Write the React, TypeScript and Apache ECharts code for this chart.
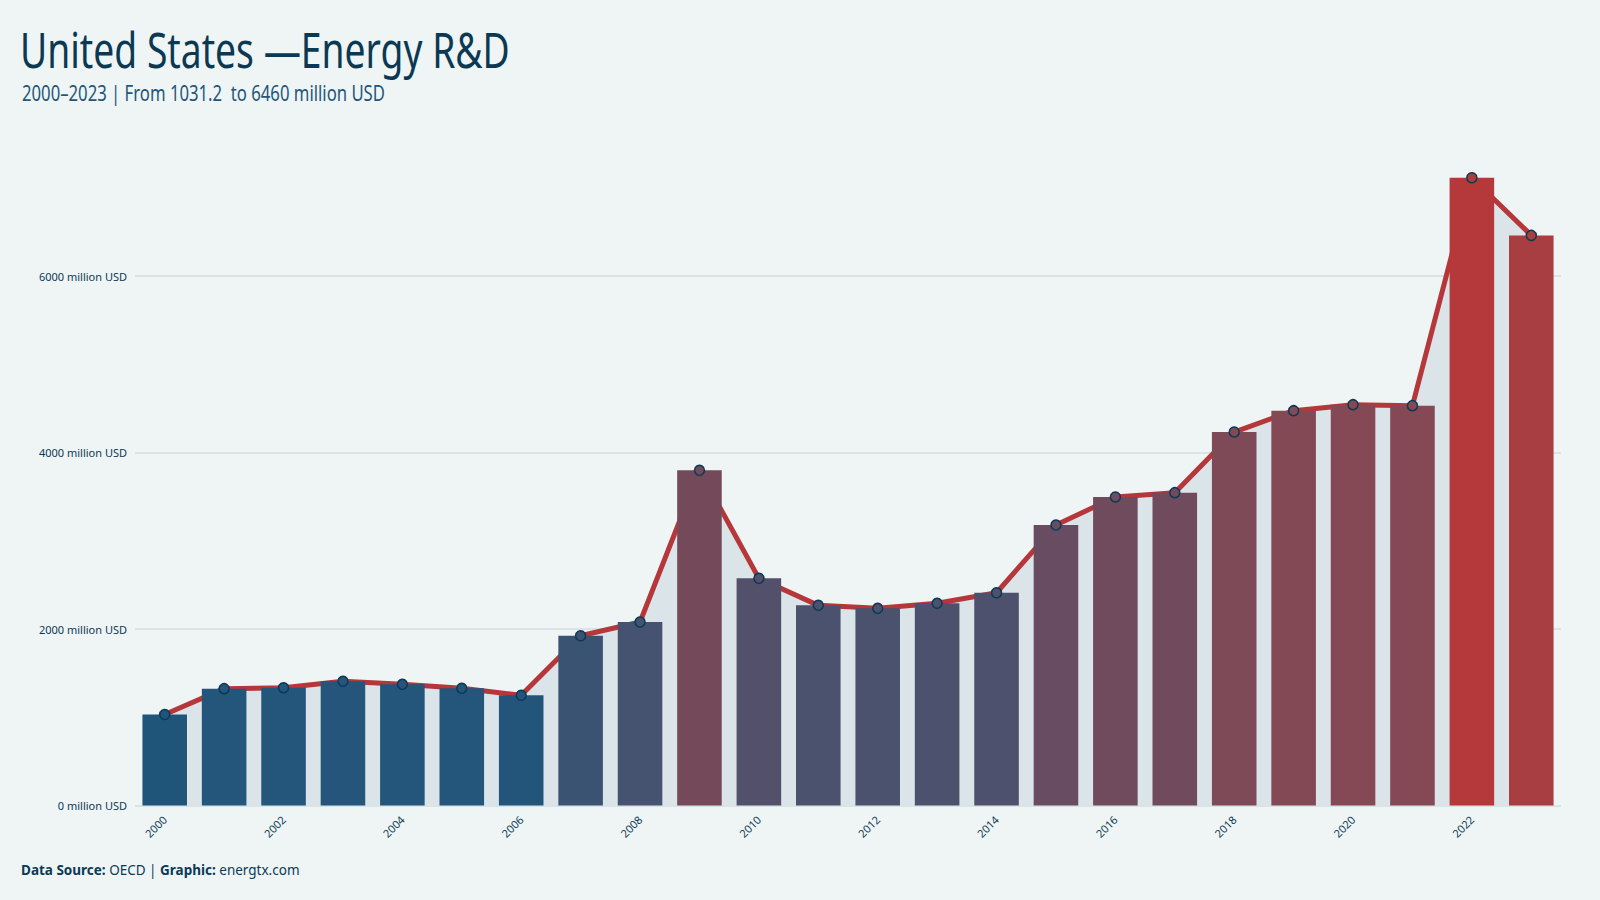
import React, { useEffect, useRef } from "react";
import * as echarts from "echarts";

// Annual US public energy R&D budget, million USD
const years: string[] = [
  "2000", "2001", "2002", "2003", "2004", "2005", "2006", "2007",
  "2008", "2009", "2010", "2011", "2012", "2013", "2014", "2015",
  "2016", "2017", "2018", "2019", "2020", "2021", "2022", "2023",
];
const rdSpending: number[] = [
  1031.2, 1324, 1335, 1407, 1373, 1328, 1249, 1924,
  2079, 3798, 2574, 2268, 2234, 2291, 2411, 3178,
  3496, 3545, 4232, 4474, 4542, 4531, 7114, 6460,
];
const yTickStep = 2000;
const unit = "million USD";

// colour ramp from low (blue) to high (red) spending
const rampColors = [
  "#20557a", "#27557a", "#48526f", "#55506a", "#6a4c60", "#744a5a",
  "#814a56", "#8a4852", "#93454d", "#9d4247", "#aa3d40", "#b5383a",
];

const INK = "#0b3a55";
const SANS = "'Noto Sans', 'Open Sans', sans-serif";

export default function App() {
  const ref = useRef<HTMLDivElement>(null);

  useEffect(() => {
    if (!ref.current) return;
    const chart = echarts.init(ref.current, undefined, { renderer: "svg" });
    const first = rdSpending[0];
    const last = rdSpending[rdSpending.length - 1];
    const subtitle = `${years[0]}–${years[years.length - 1]} | From ${first}  to ${last} ${unit}`;

    chart.setOption({
      animation: false,
      backgroundColor: "#eff5f5",
      graphic: [
        {
          // condensed headline
          type: "text",
          x: 20,
          y: 23.5,
          scaleX: 0.745,
          style: {
            text: "United States —Energy R&D",
            fontFamily: SANS,
            fontSize: 50,
            fill: "#0b3954",
            verticalAlign: "top",
          },
        },
        {
          type: "text",
          x: 22,
          y: 83,
          scaleX: 0.795,
          style: {
            text: subtitle,
            fontFamily: SANS,
            fontSize: 21,
            fill: "#24557a",
            verticalAlign: "top",
          },
        },
        {
          type: "text",
          x: 21,
          y: 863,
          style: {
            text: "{b|Data Source:} OECD | {b|Graphic:} energtx.com",
            rich: {
              b: { fontWeight: "bold", fontSize: 13.5, fontFamily: SANS, fill: INK },
            },
            fontSize: 13.5,
            fontFamily: SANS,
            fill: INK,
          },
        },
      ],
      grid: { left: 135, right: 39, top: 177.7, bottom: 94.5 },
      visualMap: {
        show: false,
        type: "continuous",
        seriesIndex: [1, 2],
        dimension: 1,
        min: Math.min(...rdSpending),
        max: Math.max(...rdSpending),
        inRange: { color: rampColors },
      },
      xAxis: {
        type: "category",
        data: years,
        boundaryGap: true,
        axisLine: { show: false },
        axisTick: { show: false },
        axisLabel: {
          interval: 1,
          rotate: 45,
          margin: 12,
          fontSize: 11,
          fontFamily: SANS,
          color: INK,
        },
      },
      yAxis: {
        type: "value",
        min: 0,
        max: "dataMax",
        interval: yTickStep,
        axisLine: { show: false },
        axisTick: { show: false },
        axisLabel: {
          formatter: (v: number) => `${v} ${unit}`,
          showMaxLabel: false,
          margin: 8,
          fontSize: 11,
          fontFamily: SANS,
          color: INK,
        },
        splitLine: {
          showMaxLine: false,
          lineStyle: { color: "#d2dee2", width: 1.5 },
        },
      },
      series: [
        {
          type: "line",
          data: rdSpending,
          z: 1,
          symbol: "none",
          lineStyle: { color: "#b5373a", width: 5 },
          areaStyle: { color: "#dae4e9", opacity: 1 },
        },
        {
          type: "bar",
          data: rdSpending,
          z: 2,
          barWidth: "75%",
        },
        {
          type: "scatter",
          data: rdSpending,
          z: 3,
          symbol: "circle",
          symbolSize: 10,
          itemStyle: { borderColor: INK, borderWidth: 1.5, opacity: 1 },
        },
      ],
    });

    return () => chart.dispose();
  }, []);

  return (
    <div
      ref={ref}
      style={{ position: "fixed", left: 0, top: 0, width: 1600, height: 900 }}
    />
  );
}
